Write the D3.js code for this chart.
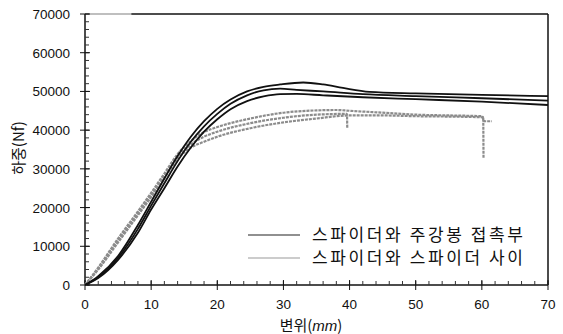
<!DOCTYPE html>
<html>
<head>
<meta charset="utf-8">
<script src="https://cdn.jsdelivr.net/npm/d3@7"></script>
<style>
  body { margin: 0; background: #fff; }
  svg { display: block; }
  .tick-label { font-family: "Liberation Sans", Arial, sans-serif; font-size: 13.5px; fill: #111; }
  .kr { font-family: "Noto Sans CJK KR", "Noto Sans", sans-serif; fill: #111; }
</style>
</head>
<body>
<div id="chart-area"></div>
<script>
// x = 변위 (mm), y = 하중 (Nf)
var xTicks = [0, 10, 20, 30, 40, 50, 60, 70];
var yTicks = [0, 10000, 20000, 30000, 40000, 50000, 60000, 70000];

// 스파이더와 주강봉 접촉부 (black)
var contactA = [[0,0],[2,2300],[5,7500],[8,15500],[10,21500],[12,27500],[14,33300],[16,38300],[18,42300],[20,45500],[22,47900],[24.5,50000],[27,51200],[29.5,51800],[33,52300],[36,51800],[39,50900],[43,49900],[50,49500],[60,49100],[70,48800]];
var contactB = [[0,0],[2,2000],[5,7000],[8,14500],[10,20500],[12,26300],[14,32000],[16,37000],[18,41000],[20,44200],[22,46800],[24.5,49000],[27,50300],[29.5,50700],[32,50400],[36,50000],[42,49300],[50,48800],[60,48240],[70,47630]];
var contactC = [[0,0],[2,1800],[5,6500],[8,13500],[10,19500],[12,25000],[14,30600],[16,35500],[18,39600],[20,42800],[22,45400],[24.5,47500],[27,48700],[29.5,49300],[32,49350],[36,49000],[42,48500],[50,48000],[60,47370],[70,46500]];

// 스파이더와 스파이더 사이 (gray)
var betweenA = [[0,0],[2,4500],[5,12000],[8,19000],[10,23800],[12,28800],[14,33800],[16,37200],[18,39500],[20,40800],[25,43000],[30,44500],[35,45100],[38,45200],[40,45000],[45,44500],[50,44000],[55,43800],[60,43600],[60.4,42300],[61.5,42300]];
var betweenB = [[0,0],[2,4200],[5,11500],[8,18500],[10,23200],[12,28200],[14,33200],[16,36300],[18,38300],[20,39600],[25,41800],[30,43200],[35,44000],[39.6,44200],[39.65,40600]];
var betweenC = [[0,0],[2,4000],[5,11000],[8,18000],[10,22700],[12,27600],[14,32600],[16,35500],[18,37000],[20,38300],[25,40500],[30,42000],[35,43000],[40,43800],[45,43800],[50,43600],[55,43500],[60.2,43300],[60.25,32700]];

var contactSeries = [contactA, contactB, contactC];
var betweenSeries = [betweenA, betweenB, betweenC];
var legendLabels = ["스파이더와 주강봉 접촉부", "스파이더와 스파이더 사이"];

var W = 563, H = 334;
var svg = d3.select("#chart-area").append("svg")
  .attr("width", W)
  .attr("height", H);

var x = d3.scaleLinear().domain([0, 70]).range([85, 548]);
var y = d3.scaleLinear().domain([0, 70000]).range([285, 14]);

var line = d3.line()
  .x(d => x(d[0]))
  .y(d => y(d[1]))
  .curve(d3.curveMonotoneX);

// frame (top + right)
svg.append("line")
  .attr("x1", x(0)).attr("x2", x(7))
  .attr("y1", y(70000)).attr("y2", y(70000))
  .attr("stroke", "#aaa").attr("stroke-width", 1.5);
svg.append("line")
  .attr("x1", x(7)).attr("x2", x(70))
  .attr("y1", y(70000)).attr("y2", y(70000))
  .attr("stroke", "#111").attr("stroke-width", 1.5);
svg.append("line")
  .attr("x1", x(70)).attr("x2", x(70))
  .attr("y1", y(70000)).attr("y2", y(0))
  .attr("stroke", "#111").attr("stroke-width", 1.5);

// Y axis
var yAxis = svg.append("g").attr("transform", "translate(" + x(0) + ",0)");
yAxis.append("line")
  .attr("y1", y(0)).attr("y2", y(70000))
  .attr("stroke", "#111").attr("stroke-width", 1.5);
yAxis.selectAll(".minor")
  .data(d3.range(0, 70001, 2000))
  .enter().append("line")
  .attr("x1", 0).attr("x2", 4)
  .attr("y1", d => y(d)).attr("y2", d => y(d))
  .attr("stroke", "#333").attr("stroke-width", 1);
yAxis.selectAll(".major")
  .data(yTicks)
  .enter().append("line")
  .attr("x1", -5).attr("x2", 5)
  .attr("y1", d => y(d)).attr("y2", d => y(d))
  .attr("stroke", "#111").attr("stroke-width", 1);
yAxis.selectAll("text")
  .data(yTicks)
  .enter().append("text")
  .attr("class", "tick-label")
  .attr("x", -15)
  .attr("y", d => y(d) + 5)
  .attr("text-anchor", "end")
  .text(d => d);

// X axis
var xAxis = svg.append("g").attr("transform", "translate(0," + y(0) + ")");
xAxis.append("line")
  .attr("x1", x(0)).attr("x2", x(70))
  .attr("stroke", "#111").attr("stroke-width", 1.5);
xAxis.selectAll(".minor")
  .data(d3.range(0, 71, 2))
  .enter().append("line")
  .attr("x1", d => x(d)).attr("x2", d => x(d))
  .attr("y1", 0).attr("y2", -4)
  .attr("stroke", "#333").attr("stroke-width", 1);
xAxis.selectAll(".major")
  .data(xTicks)
  .enter().append("line")
  .attr("x1", d => x(d)).attr("x2", d => x(d))
  .attr("y1", -5).attr("y2", 5)
  .attr("stroke", "#111").attr("stroke-width", 1);
xAxis.selectAll("text")
  .data(xTicks)
  .enter().append("text")
  .attr("class", "tick-label")
  .attr("x", d => x(d))
  .attr("y", 24)
  .attr("text-anchor", "middle")
  .text(d => d);

// axis titles
var xTitle = svg.append("text")
  .attr("class", "kr")
  .attr("x", 311)
  .attr("y", 331)
  .attr("text-anchor", "middle")
  .attr("font-size", "15px");
xTitle.append("tspan").text("변위(");
xTitle.append("tspan").attr("font-style", "italic").attr("font-family", "Liberation Sans, Arial, sans-serif").text("mm");
xTitle.append("tspan").text(")");

svg.append("text")
  .attr("class", "kr")
  .attr("transform", "translate(24,148) rotate(-90)")
  .attr("text-anchor", "middle")
  .attr("font-size", "15px")
  .text("하중(Nf)");

// gray series
svg.append("g").selectAll("path")
  .data(betweenSeries)
  .enter().append("path")
  .attr("d", line)
  .attr("fill", "none")
  .attr("stroke", "#8c8c8c")
  .attr("stroke-width", 2.2)
  .attr("stroke-dasharray", "3,1");

// black series
svg.append("g").selectAll("path")
  .data(contactSeries)
  .enter().append("path")
  .attr("d", line)
  .attr("fill", "none")
  .attr("stroke", "#111")
  .attr("stroke-width", 1.8);

// legend
var legend = svg.append("g");
var legendStyles = [
  { stroke: "#222", width: 1.2 },
  { stroke: "#999", width: 1.2 }
];
legendLabels.forEach((label, i) => {
  var ly = 235 + i * 23;
  legend.append("line")
    .attr("x1", 248).attr("x2", 300)
    .attr("y1", ly).attr("y2", ly)
    .attr("stroke", legendStyles[i].stroke)
    .attr("stroke-width", legendStyles[i].width);
  legend.append("text")
    .attr("class", "kr")
    .attr("x", 312)
    .attr("y", ly + 6)
    .attr("font-size", "17px")
    .attr("textLength", 211)
    .attr("lengthAdjust", "spacing")
    .text(label);
});
</script>
</body>
</html>
